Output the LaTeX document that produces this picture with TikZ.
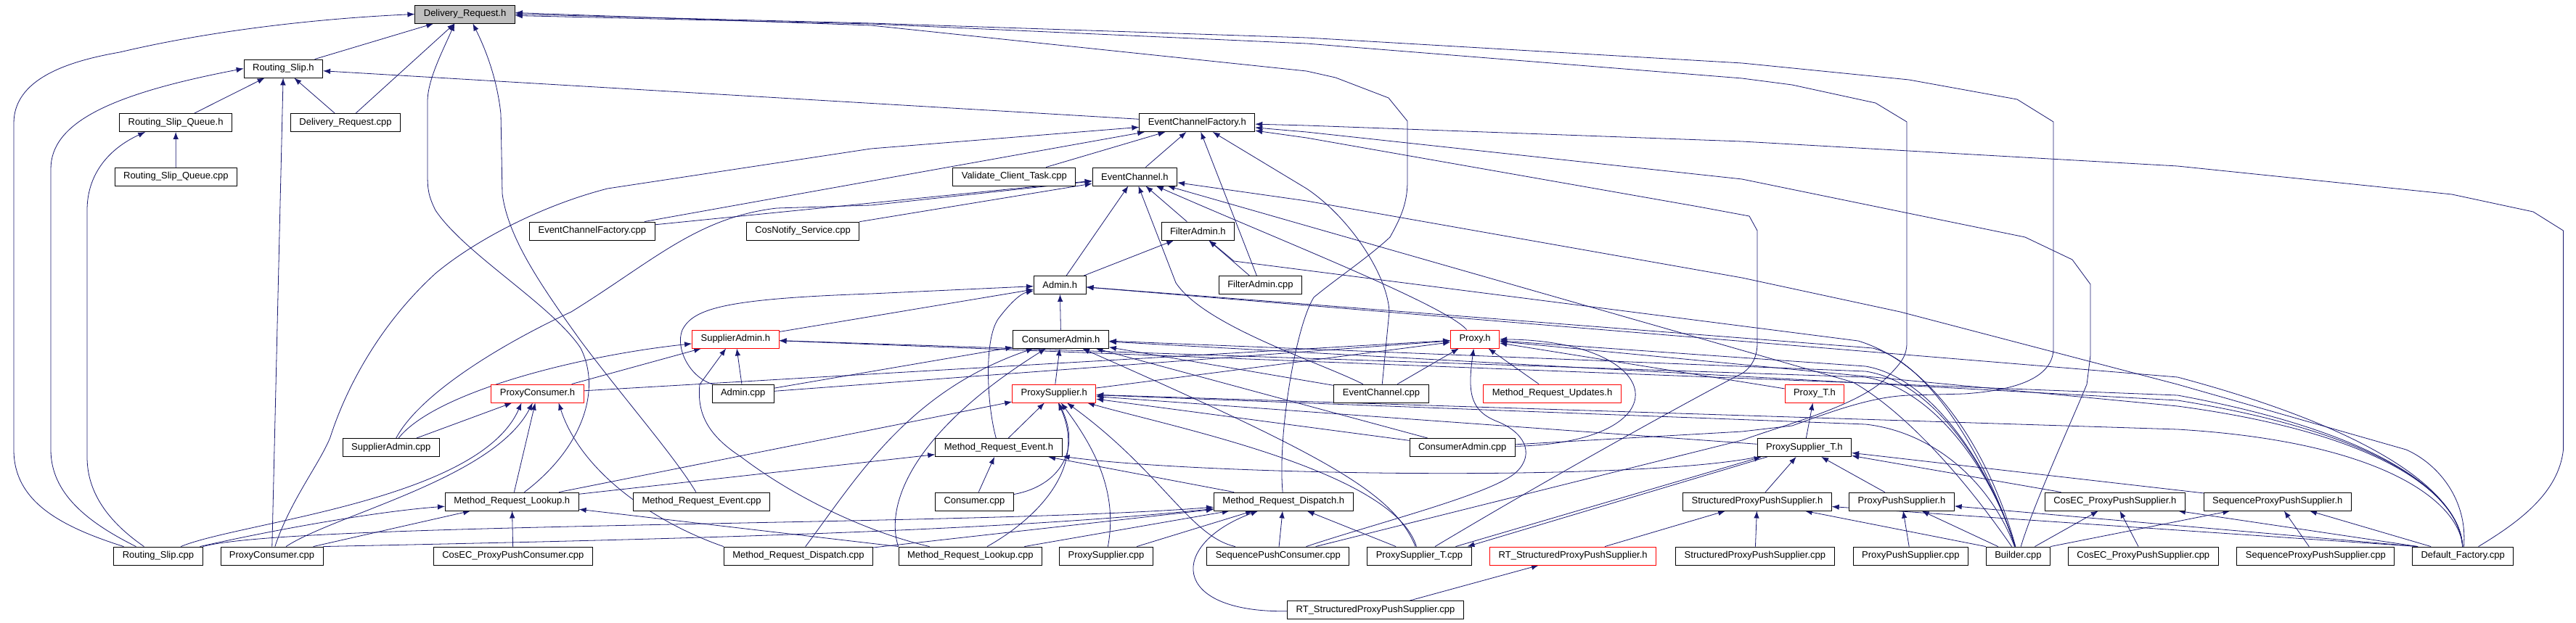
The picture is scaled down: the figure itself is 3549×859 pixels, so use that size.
\documentclass[tikz,border=0pt]{standalone}
\usepackage{fontspec}
\setmainfont{Liberation Sans}
\usepackage{tikz}
\usetikzlibrary{arrows.meta,backgrounds}
\definecolor{incblue}{RGB}{25,25,112}

\begin{document}
\begin{tikzpicture}[x=1pt,y=1pt]
\tikzset{file/.style = {draw, fill=white, rectangle, line width=.9pt, inner xsep=12pt, inner ysep=0pt, minimum height=25pt, font=\fontsize{13pt}{15pt}\selectfont},
  redfile/.style = {file, draw=red},
  rootfile/.style = {file, fill=black!25},
  incl/.style = {-{Latex[length=10pt,width=7.5pt]}, draw=incblue, line width=.8pt}}
\useasboundingbox (0,0) rectangle (3549,-859);
%top: the header and the routing slip
\node[rootfile] (drh) at (640.6,-19.5) {Delivery\_Request.h};
\node[file] (rsh) at (390.4,-94.5) {Routing\_Slip.h};
\node[file] (rsqh) at (242.1,-169) {Routing\_Slip\_Queue.h};
\node[file] (drcpp) at (476,-169) {Delivery\_Request.cpp};
\node[file] (rsqcpp) at (242.4,-243.5) {Routing\_Slip\_Queue.cpp};
%event channel factory and channel
\node[file] (ecfh) at (1649.3,-169) {EventChannelFactory.h};
\node[file] (vctcpp) at (1397.3,-243.5) {Validate\_Client\_Task.cpp};
\node[file] (ech) at (1563.4,-243.5) {EventChannel.h};
\node[file] (ecfcpp) at (815.9,-318.5) {EventChannelFactory.cpp};
\node[file] (cnscpp) at (1106,-318.5) {CosNotify\_Service.cpp};
\node[file] (fah) at (1650.3,-318.5) {FilterAdmin.h};
\node[file] (adh) at (1460.2,-393) {Admin.h};
\node[file] (facpp) at (1736.4,-393) {FilterAdmin.cpp};
%admins and proxies
\node[redfile] (sah) at (1013.3,-467.5) {SupplierAdmin.h};
\node[file] (cah) at (1461.6,-467.5) {ConsumerAdmin.h};
\node[redfile] (pxh) at (2032.1,-467.5) {Proxy.h};
\node[redfile] (pch) at (740.5,-542.5) {ProxyConsumer.h};
\node[file] (adcpp) at (1023.7,-542.5) {Admin.cpp};
\node[redfile] (psh) at (1452.2,-542.5) {ProxySupplier.h};
\node[file] (eccpp) at (1903,-542.5) {EventChannel.cpp};
\node[redfile] (mruh) at (2138.5,-542.5) {Method\_Request\_Updates.h};
\node[redfile] (pth) at (2499.9,-542.5) {Proxy\_T.h};
\node[file] (sacpp) at (538.8,-617) {SupplierAdmin.cpp};
\node[file] (mreh) at (1375.9,-617) {Method\_Request\_Event.h};
\node[file] (cacpp) at (2014.7,-617) {ConsumerAdmin.cpp};
\node[file] (psth) at (2485.9,-617) {ProxySupplier\_T.h};
%method requests and push suppliers
\node[file] (mrlh) at (705.3,-691.5) {Method\_Request\_Lookup.h};
\node[file] (mrecpp) at (966.6,-691.5) {Method\_Request\_Event.cpp};
\node[file] (conscpp) at (1342.4,-691.5) {Consumer.cpp};
\node[file] (mrdh) at (1768.3,-691.5) {Method\_Request\_Dispatch.h};
\node[file] (sppsh) at (2420.9,-691.5) {StructuredProxyPushSupplier.h};
\node[file] (ppsh) at (2619.9,-691.5) {ProxyPushSupplier.h};
\node[file] (cppsh) at (2913.8,-691.5) {CosEC\_ProxyPushSupplier.h};
\node[file] (sqpsh) at (3137.8,-691.5) {SequenceProxyPushSupplier.h};
%bottom row
\node[file] (rscpp) at (218,-766.5) {Routing\_Slip.cpp};
\node[file] (pccpp) at (374.5,-766.5) {ProxyConsumer.cpp};
\node[file] (cpccpp) at (706.9,-766.5) {CosEC\_ProxyPushConsumer.cpp};
\node[file] (mrdcpp) at (1100,-766.5) {Method\_Request\_Dispatch.cpp};
\node[file] (mrlcpp) at (1336.8,-766.5) {Method\_Request\_Lookup.cpp};
\node[file] (pscpp) at (1524,-766.5) {ProxySupplier.cpp};
\node[file] (spccpp) at (1760.8,-766.5) {SequencePushConsumer.cpp};
\node[file] (pstcpp) at (1955.4,-766.5) {ProxySupplier\_T.cpp};
\node[redfile] (rtsh) at (2167.2,-766.5) {RT\_StructuredProxyPushSupplier.h};
\node[file] (sppscpp) at (2417.9,-766.5) {StructuredProxyPushSupplier.cpp};
\node[file] (ppscpp) at (2632.3,-766.5) {ProxyPushSupplier.cpp};
\node[file] (bcpp) at (2780.4,-766.5) {Builder.cpp};
\node[file] (cppscpp) at (2952.8,-766.5) {CosEC\_ProxyPushSupplier.cpp};
\node[file] (sqpscpp) at (3190.3,-766.5) {SequenceProxyPushSupplier.cpp};
\node[file] (dfcpp) at (3393.2,-766.5) {Default\_Factory.cpp};
\node[file] (rtscpp) at (1895,-841) {RT\_StructuredProxyPushSupplier.cpp};
\begin{scope}[on background layer]
%who includes Delivery_Request.h
\draw[incl] (rsh) -- (drh); \draw[incl] (drcpp) -- (drh);
\draw[incl] ([xshift=14pt]rscpp.north west) .. controls (80,-725) and (19,-690) .. (19,-620) -- (19,-170) .. controls (19,-110) and (90,-85) .. (165,-72) .. controls (300,-40) and (450,-25) .. (drh.west);
\draw[incl] (mrlh) .. controls (800,-620) and (830,-540) .. (800,-480) .. controls (760,-420) and (640,-350) .. (600,-290) .. controls (590,-270) and (589,-260) .. (589,-240) -- (589,-140) .. controls (589,-110) and (610,-70) .. ([xshift=55pt]drh.south west);
\draw[incl] (mrecpp) .. controls (930,-630) and (860,-550) .. (800,-470) .. controls (750,-400) and (700,-330) .. (692,-267) -- (690,-157) .. controls (685,-110) and (670,-70) .. ([xshift=80pt]drh.south west);
\draw[incl] (cacpp) -- (2400,-595) -- (2469,-587) .. controls (2530,-565) and (2580,-547) .. (2630,-545) -- (2706,-543) .. controls (2780,-538) and (2829,-520) .. (2829,-480) -- (2829,-168) -- (2779,-137) -- (2630,-110) -- (2400,-87) -- (1800,-52) -- (1200,-32) -- (drh.east);
\draw[incl] (spccpp) -- (2400,-607) .. controls (2460,-585) and (2560,-560) .. (2600,-520) .. controls (2620,-500) and (2627,-490) .. (2627,-473) -- (2627,-168) -- (2584,-142) -- (2469,-117) -- (2400,-108) -- (1800,-60) -- (1200,-33) -- ([yshift=-2pt]drh.east);
\draw[incl] (mrdh) .. controls (1760,-600) and (1785,-450) .. (1810,-410) .. controls (1840,-385) and (1885,-355) .. (1915,-327) .. controls (1930,-300) and (1939,-280) .. (1939,-250) -- (1939,-167) -- (1913,-135) -- (1840,-107) -- (1800,-98) -- (1200,-35) -- ([yshift=2pt]drh.east);
%routing slip and queue
\draw[incl] (rsqh) -- (rsh); \draw[incl] (drcpp) -- (rsh); \draw[incl] (pccpp) -- (rsh); \draw[incl] (ecfh) -- (rsh);
\draw[incl] ([xshift=31pt]rscpp.north west) .. controls (120,-720) and (70,-680) .. (70,-620) -- (70,-233) .. controls (70,-170) and (150,-130) .. (rsh.west);
\draw[incl] ([xshift=42pt]rscpp.north west) .. controls (150,-720) and (120,-680) .. (120,-630) -- (120,-290) .. controls (120,-240) and (150,-205) .. ([xshift=36pt]rsqh.south west);
\draw[incl] (rsqcpp) -- (rsqh);
%EventChannelFactory.h
\draw[incl] (ecfcpp) -- (ecfh); \draw[incl] (vctcpp) -- (ecfh); \draw[incl] (ech) -- (ecfh); \draw[incl] (facpp) -- (ecfh);
\draw[incl] (eccpp) -- (1914,-430) .. controls (1912,-380) and (1860,-300) .. (1800,-260) -- (ecfh);
\draw[incl] (pccpp) .. controls (400,-690) and (440,-640) .. (455,-603) .. controls (475,-540) and (520,-450) .. (600,-377) .. controls (650,-335) and (740,-285) .. (837,-260) -- (1200,-205) -- (ecfh);
\draw[incl] (dfcpp) .. controls (3470,-720) and (3525,-680) .. (3531.5,-620) -- (3531.5,-318) -- (3490,-292) -- (3378,-268) -- (3000,-229) -- (2400,-195) -- (1800,-173) -- (ecfh);
\draw[incl] (bcpp) .. controls (2800,-700) and (2850,-590) .. (2875,-530) -- (2880,-490) -- (2880,-392) -- (2855,-358) -- (2790,-327) -- (2400,-247) -- (1800,-182) -- (ecfh);
\draw[incl] (pstcpp) .. controls (2150,-650) and (2350,-540) .. (2400,-515) .. controls (2415,-505) and (2421,-490) .. (2421,-473) -- (2421,-318) -- (2410,-298) -- (2340,-285) -- (1800,-190) -- (ecfh);
%EventChannel.h
\draw[incl] (ecfcpp) -- (ech); \draw[incl] (cnscpp) -- (ech); \draw[incl] (adh) -- (ech); \draw[incl] (fah) -- (ech);
\draw[incl] (eccpp) .. controls (1820,-500) and (1660,-450) .. (1620,-390) -- (ech);
\draw[incl] (pxh) .. controls (1990,-420) and (1760,-330) .. (ech);
\draw[incl] (sacpp) .. controls (580,-540) and (700,-470) .. (787,-430) .. controls (900,-360) and (960,-300) .. (1070,-287) -- (1200,-283) -- (ech);
\draw[incl] (bcpp) .. controls (2700,-650) and (2620,-565) .. (2553,-527) -- (2400,-483) -- (ech);
\draw[incl] (dfcpp) .. controls (3400,-690) and (3360,-640) .. (3315,-620) -- (3000,-530) -- (2618,-430) -- (2400,-383) -- (1800,-277) -- (ech);
%FilterAdmin.h
\draw[incl] (adh) -- (fah); \draw[incl] (facpp) -- (fah);
\draw[incl] (bcpp) .. controls (2740,-620) and (2660,-500) .. (2560,-470) -- (1700,-360) -- (fah);
%Admin.h
\draw[incl] (sah) -- (adh); \draw[incl] (cah) -- (adh);
\draw[incl] (adcpp) .. controls (950,-520) and (930,-480) .. (940,-455) .. controls (955,-425) and (1000,-412) .. (1200,-405) -- (adh);
\draw[incl] (mreh) .. controls (1360,-560) and (1355,-470) .. (1375,-440) .. controls (1390,-420) and (1405,-405) .. (adh);
\draw[incl] (bcpp) .. controls (2740,-640) and (2660,-500) .. (2580,-480) -- (adh);
\draw[incl] (dfcpp) .. controls (3390,-690) and (3300,-600) .. (3000,-520) -- (adh);
%SupplierAdmin.h
\draw[incl] (adcpp) -- (sah); \draw[incl] (pch) -- (sah);
\draw[incl] (sacpp) .. controls (600,-540) and (800,-490) .. (sah);
\draw[incl] (mrlcpp) .. controls (1200,-735) and (1100,-690) .. (1021,-630) .. controls (975,-600) and (960,-570) .. (964,-530) -- ([xshift=47pt]sah.south west);
\draw[incl] (bcpp) .. controls (2740,-640) and (2660,-535) .. (2570,-520) -- (sah);
\draw[incl] (dfcpp) .. controls (3390,-690) and (3300,-600) .. (3000,-545) -- (sah);
%ConsumerAdmin.h
\draw[incl] (psh) -- (cah); \draw[incl] (adcpp) -- (cah); \draw[incl] (cacpp) -- (cah); \draw[incl] (eccpp) -- (cah);
\draw[incl] (pstcpp) .. controls (1920,-680) and (1830,-630) .. (cah);
\draw[incl] (mrlcpp.north west) .. controls (1220,-700) and (1250,-600) .. (cah);
\draw[incl] (mrdcpp) .. controls (1180,-660) and (1250,-540) .. (cah);
\draw[incl] (bcpp) .. controls (2740,-640) and (2660,-525) .. (2570,-512) -- (cah);
\draw[incl] (dfcpp) .. controls (3390,-690) and (3300,-600) .. (3000,-552) -- (cah);
%Proxy.h
\draw[incl] (pch) -- (pxh); \draw[incl] (psh) -- (pxh); \draw[incl] (adcpp) -- (pxh);
\draw[incl] (eccpp) -- (pxh); \draw[incl] (mruh) -- (pxh); \draw[incl] (pth) -- (pxh);
\draw[incl] (cacpp) .. controls (2320,-610) and (2300,-470) .. (pxh);
\draw[incl] (spccpp) .. controls (1900,-720) and (2060,-680) .. (2090,-650) .. controls (2115,-625) and (2100,-595) .. (2060,-580) .. controls (2025,-565) and (2022,-540) .. (pxh);
\draw[incl] (bcpp) .. controls (2740,-640) and (2660,-520) .. (2570,-505) -- (pxh);
\draw[incl] (dfcpp) .. controls (3390,-690) and (3300,-600) .. (3000,-560) -- (pxh);
%ProxyConsumer.h
\draw[incl] (sacpp) -- (pch); \draw[incl] (mrlh) -- (pch);
\draw[incl] (rscpp) .. controls (330,-720) and (660,-690) .. ([xshift=-22pt]pch.south);
\draw[incl] (pccpp) .. controls (460,-710) and (680,-660) .. (pch);
\draw[incl] (mrdcpp.north west) .. controls (900,-720) and (800,-650) .. ([xshift=-35pt]pch.south east);
%ProxySupplier.h
\draw[incl] (mreh) -- (psh); \draw[incl] (mrlh) -- (psh); \draw[incl] (psth) -- (psh); \draw[incl] (cacpp) -- (psh);
\draw[incl] (conscpp) .. controls (1460,-670) and (1490,-620) .. (psh);
\draw[incl] (pscpp) .. controls (1540,-680) and (1510,-620) .. (psh);
\draw[incl] (mrlcpp) .. controls (1420,-720) and (1500,-650) .. (psh);
\draw[incl] (spccpp) .. controls (1640,-740) and (1600,-650) .. (psh);
\draw[incl] (pstcpp) .. controls (1920,-650) and (1620,-590) .. (psh);
\draw[incl] (bcpp) .. controls (2740,-660) and (2660,-595) .. (2570,-585) -- (psh);
\draw[incl] (dfcpp) .. controls (3390,-700) and (3300,-610) .. (3000,-592) -- (psh);
%Method_Request_Event.h
\draw[incl] (mrlh) -- (mreh); \draw[incl] (conscpp) -- (mreh); \draw[incl] (mrdh) -- (mreh);
\draw[incl] (psth) .. controls (2250,-665) and (1650,-655) .. (mreh);
%Method_Request_Lookup.h
\draw[incl] (cpccpp) -- (mrlh); \draw[incl] (mrlcpp.north west) -- (mrlh); \draw[incl] (pccpp) -- (mrlh);
\draw[incl] (rscpp) .. controls (380,-730) and (520,-705) .. (mrlh);
%Method_Request_Dispatch.h
\draw[incl] (spccpp) -- (mrdh); \draw[incl] (pstcpp) -- (mrdh); \draw[incl] (mrdcpp) -- (mrdh);
\draw[incl] (pscpp) -- (mrdh); \draw[incl] (mrlcpp) -- (mrdh);
\draw[incl] (rscpp.north east) .. controls (400,-720) and (1350,-725) .. (mrdh);
\draw[incl] (pccpp.north east) .. controls (850,-745) and (1350,-735) .. (mrdh);
\draw[incl] (rtscpp) .. controls (1610,-845) and (1610,-750) .. (mrdh);
%push supplier headers
\draw[incl] (rtsh) -- (sppsh); \draw[incl] (sppscpp) -- (sppsh); \draw[incl] (bcpp.north west) -- (sppsh); \draw[incl] ([xshift=8pt]dfcpp.north west) -- (sppsh);
\draw[incl] (ppscpp) -- (ppsh); \draw[incl] (bcpp) -- (ppsh); \draw[incl] ([xshift=8pt]dfcpp.north west) -- (ppsh);
\draw[incl] (cppscpp) -- (cppsh); \draw[incl] (bcpp) -- (cppsh); \draw[incl] ([xshift=8pt]dfcpp.north west) -- (cppsh);
\draw[incl] (sqpscpp) -- (sqpsh); \draw[incl] (bcpp.north east) -- (sqpsh); \draw[incl] (dfcpp) -- (sqpsh);
%ProxySupplier_T and Proxy_T
\draw[incl] (sppsh) -- (psth); \draw[incl] (ppsh) -- (psth); \draw[incl] (cppsh) -- (psth); \draw[incl] (sqpsh) -- (psth);
\draw[incl] ([xshift=-22pt]pstcpp.north east) -- ([xshift=6pt]psth.south west);
\draw[incl] ([xshift=14pt]psth.south west) -- ([xshift=-6pt]pstcpp.north east);
\draw[incl] (psth) -- (pth); \draw[incl] (rtscpp) -- (rtsh);
\end{scope}
\end{tikzpicture}
\end{document}
